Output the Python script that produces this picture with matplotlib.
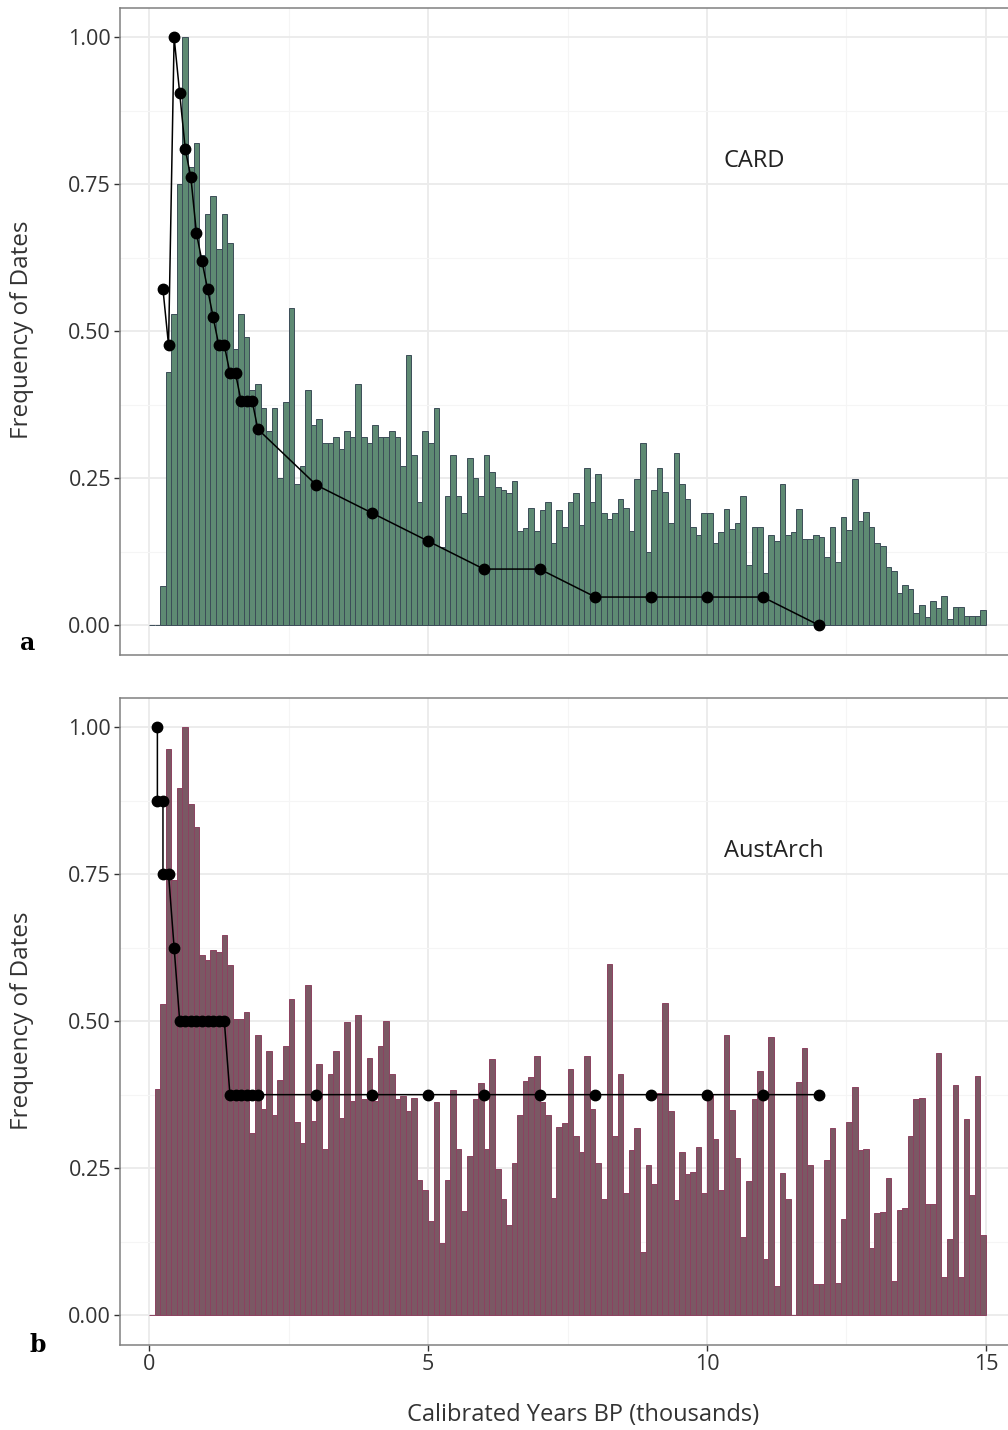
import matplotlib.pyplot as plt
import numpy as np
from matplotlib.ticker import MultipleLocator

plt.rcParams['font.family'] = ['Open Sans', 'DejaVu Sans']

# 100-year bins, left edges in thousands of years BP
bin_left = np.round(np.arange(0, 15, 0.1), 1)

# CARD histogram (scaled so the largest bin = 1)
card_freq = [
    0, 0, 0.067, 0.43, 0.53, 0.75, 1.0, 0.78, 0.82, 0.63,
    0.70, 0.73, 0.64, 0.70, 0.65, 0.47, 0.53, 0.49, 0.40, 0.41,
    0.37, 0.33, 0.37, 0.25, 0.38, 0.54, 0.24, 0.27, 0.40, 0.34,
    0.35, 0.31, 0.31, 0.32, 0.30, 0.33, 0.32, 0.41, 0.32, 0.31,
    0.34, 0.32, 0.32, 0.33, 0.32, 0.27, 0.46, 0.29, 0.21, 0.33,
    0.31, 0.37, 0.133, 0.22, 0.29, 0.22, 0.19, 0.285, 0.25, 0.22,
    0.29, 0.26, 0.235, 0.23, 0.225, 0.245, 0.16, 0.165, 0.20, 0.16,
    0.196, 0.21, 0.14, 0.196, 0.166, 0.21, 0.225, 0.17, 0.267, 0.21,
    0.257, 0.19, 0.18, 0.19, 0.215, 0.20, 0.16, 0.248, 0.31, 0.124,
    0.23, 0.267, 0.227, 0.173, 0.293, 0.24, 0.215, 0.166, 0.154, 0.19,
    0.19, 0.14, 0.159, 0.198, 0.164, 0.174, 0.219, 0.102, 0.167, 0.167,
    0.089, 0.153, 0.143, 0.24, 0.153, 0.159, 0.198, 0.147, 0.147, 0.153,
    0.150, 0.116, 0.166, 0.107, 0.183, 0.162, 0.249, 0.177, 0.192, 0.167,
    0.14, 0.135, 0.098, 0.092, 0.054, 0.068, 0.061, 0.02, 0.034, 0.013,
    0.041, 0.029, 0.049, 0.010, 0.031, 0.031, 0.016, 0.016, 0.016, 0.026,
]

# AustArch histogram
aust_freq = [
    0, 0.385, 0.53, 0.964, 0.74, 0.897, 1.0, 0.87, 0.83, 0.613,
    0.605, 0.622, 0.617, 0.646, 0.595, 0.504, 0.504, 0.516, 0.31, 0.476,
    0.35, 0.45, 0.34, 0.40, 0.458, 0.537, 0.328, 0.293, 0.561, 0.331,
    0.428, 0.283, 0.41, 0.45, 0.335, 0.498, 0.365, 0.51, 0.367, 0.438,
    0.364, 0.458, 0.50, 0.41, 0.367, 0.372, 0.347, 0.37, 0.229, 0.213,
    0.16, 0.362, 0.123, 0.229, 0.383, 0.283, 0.177, 0.27, 0.368, 0.395,
    0.283, 0.435, 0.248, 0.198, 0.153, 0.259, 0.34, 0.398, 0.405, 0.44,
    0.362, 0.34, 0.20, 0.32, 0.326, 0.419, 0.304, 0.277, 0.44, 0.35,
    0.259, 0.198, 0.598, 0.304, 0.41, 0.207, 0.28, 0.319, 0.107, 0.255,
    0.223, 0.377, 0.531, 0.347, 0.195, 0.277, 0.24, 0.244, 0.286, 0.208,
    0.374, 0.299, 0.213, 0.476, 0.349, 0.267, 0.133, 0.228, 0.367, 0.416,
    0.095, 0.473, 0.049, 0.242, 0.197, 0.0, 0.397, 0.455, 0.256, 0.052,
    0.052, 0.264, 0.319, 0.055, 0.164, 0.328, 0.388, 0.28, 0.282, 0.114,
    0.173, 0.176, 0.233, 0.058, 0.179, 0.182, 0.304, 0.367, 0.37, 0.189,
    0.189, 0.446, 0.065, 0.129, 0.391, 0.065, 0.334, 0.204, 0.406, 0.136,
]

# line + points
card_x = [0.25, 0.35, 0.45, 0.55, 0.65, 0.75, 0.85, 0.95, 1.05, 1.15,
          1.25, 1.35, 1.45, 1.55, 1.65, 1.75, 1.85, 1.95,
          3, 4, 5, 6, 7, 8, 9, 10, 11, 12]
card_y = [12/21, 10/21, 1.0, 19/21, 17/21, 16/21, 14/21, 13/21, 12/21, 11/21,
          10/21, 10/21, 9/21, 9/21, 8/21, 8/21, 8/21, 7/21,
          5/21, 4/21, 3/21, 2/21, 2/21, 1/21, 1/21, 1/21, 1/21, 0]

aust_x = [0.15, 0.15, 0.25, 0.25, 0.35, 0.45,
          0.55, 0.65, 0.75, 0.85, 0.95, 1.05, 1.15, 1.25, 1.35,
          1.45, 1.55, 1.65, 1.75, 1.85, 1.95,
          3, 4, 5, 6, 7, 8, 9, 10, 11, 12]
aust_y = [1.0, 0.875, 0.875, 0.75, 0.75, 0.625,
          0.5, 0.5, 0.5, 0.5, 0.5, 0.5, 0.5, 0.5, 0.5,
          0.375, 0.375, 0.375, 0.375, 0.375, 0.375,
          0.375, 0.375, 0.375, 0.375, 0.375, 0.375, 0.375, 0.375, 0.375, 0.375]

fig = plt.figure(figsize=(10.08, 14.3), dpi=100)
W, H = 1008, 1430
ax1 = fig.add_axes([120/W, 1 - 655/H, (1015-120)/W, (655-8)/H])
ax2 = fig.add_axes([120/W, 1 - 1345/H, (1015-120)/W, (1345-698)/H])

panels = [
    (ax1, card_freq, card_x, card_y, '#5e8a73', '#3c4d58', 'CARD'),
    (ax2, aust_freq, aust_x, aust_y, '#7b5864', '#8c4260', 'AustArch'),
]

for ax, freq, lx, ly, fc, ec, name in panels:
    ax.set_xlim(-0.52, 15.52)
    ax.set_ylim(-0.051, 1.05)
    ax.xaxis.set_major_locator(MultipleLocator(5))
    ax.xaxis.set_minor_locator(MultipleLocator(2.5))
    ax.yaxis.set_major_locator(MultipleLocator(0.25))
    ax.yaxis.set_minor_locator(MultipleLocator(0.125))
    ax.grid(which='major', color='#ebebeb', linewidth=1.3, zorder=0)
    ax.grid(which='minor', color='#f5f5f5', linewidth=0.8, zorder=0)
    ax.set_axisbelow(True)
    ax.bar(bin_left, freq, width=0.1, align='edge', color=fc,
           edgecolor=ec, linewidth=0.7, zorder=2)
    ax.plot(lx, ly, color='black', linewidth=1.1, marker='o',
            markersize=7.5, zorder=3)
    ax.text(10.3, 0.79, name, fontsize=17, color='#222222', va='center')
    for s in ax.spines.values():
        s.set_color('#808080')
        s.set_linewidth(1.1)
    ax.tick_params(which='minor', length=0)
    ax.tick_params(which='major', length=4.5, width=1, color='#333333',
                   labelsize=15.5, labelcolor='#333333', pad=2)
    ax.yaxis.set_major_formatter(plt.FuncFormatter(lambda v, p: f'{v:.2f}'))

ax1.tick_params(axis='x', length=0, labelbottom=False)
ax2.set_xticks([0, 5, 10, 15])

fig.text(28/W, 1 - 643/H, 'a', family='DejaVu Serif', fontweight='bold',
         fontsize=17, ha='center', va='center')
fig.text(38/W, 1 - 1345/H, 'b', family='DejaVu Serif', fontweight='bold',
         fontsize=17, ha='center', va='center')

fig.text(22/W, 1 - 330/H, 'Frequency of Dates', rotation=90, fontsize=17.5,
         color='#333333', ha='center', va='center')
fig.text(22/W, 1 - 1021/H, 'Frequency of Dates', rotation=90, fontsize=17.5,
         color='#333333', ha='center', va='center')
fig.text(583/W, 1 - 1415/H, 'Calibrated Years BP (thousands)', fontsize=17,
         color='#333333', ha='center', va='center')

plt.savefig('out.png', dpi=100)
